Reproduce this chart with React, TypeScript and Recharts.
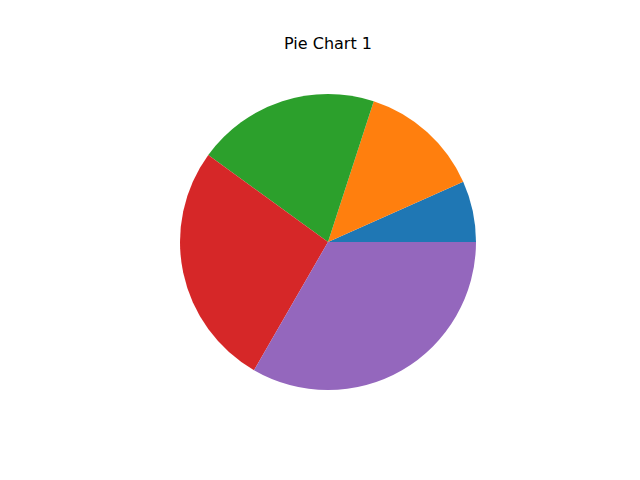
import React from "react";
import { PieChart, Pie, Cell } from "recharts";

const categories = ["A", "B", "C", "D", "E"];
const values = [1, 2, 3, 4, 5];
const colors = ["#1f77b4", "#ff7f0e", "#2ca02c", "#d62728", "#9467bd"];
const title = "Pie Chart 1";

const data = categories.map((name, i) => ({ name, value: values[i] }));

export default function App() {
  return (
    <div style={{ position: "absolute", left: 0, top: 0, width: 640, height: 480, background: "#fff" }}>
      <div
        style={{
          position: "absolute",
          left: 0,
          width: 640,
          top: 34,
          textAlign: "center",
          fontFamily: "DejaVu Sans",
          fontSize: 16,
          lineHeight: "20px",
          color: "#000",
          paddingLeft: 16,
          boxSizing: "border-box",
        }}
      >
        {title}
      </div>
      <PieChart width={640} height={480} margin={{ top: 0, right: 0, bottom: 0, left: 0 }}>
        <Pie
          data={data}
          dataKey="value"
          nameKey="name"
          cx={328}
          cy={242}
          outerRadius={148}
          innerRadius={0}
          startAngle={0}
          endAngle={360}
          stroke="none"
          isAnimationActive={false}
        >
          {data.map((d, i) => (
            <Cell key={d.name} fill={colors[i]} />
          ))}
        </Pie>
      </PieChart>
    </div>
  );
}
